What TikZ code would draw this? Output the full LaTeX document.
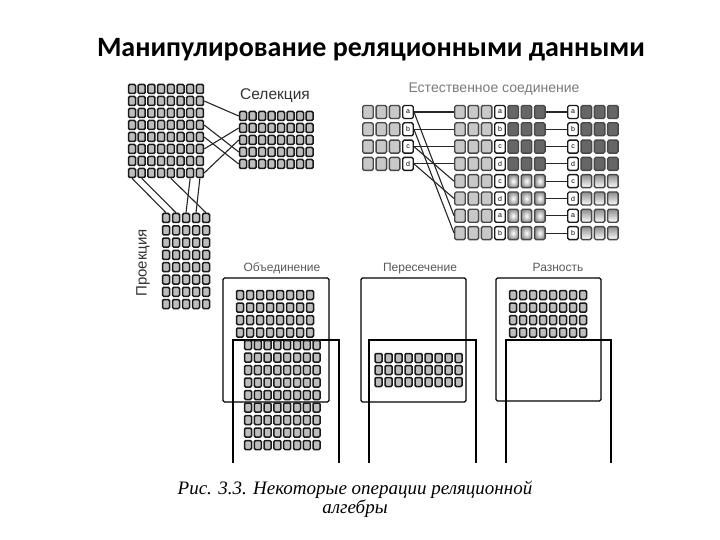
\documentclass[tikz,border=0pt]{standalone}
\usepackage{fontspec}
\setmainfont{Liberation Serif}
\newfontfamily\titlefont{Carlito}
\newfontfamily\labfont{Liberation Sans}
\definecolor{cellborder}{HTML}{1A1A1A}
\definecolor{cellfill}{HTML}{BDBDBD}
\definecolor{joinfill}{HTML}{C8C8C8}
\definecolor{darkfill}{HTML}{666666}
\definecolor{labgray}{HTML}{5A5A5A}
\begin{document}
\begin{tikzpicture}[x=1pt,y=-1pt,
  cell/.style={draw=cellborder,fill=cellfill,line width=1.5pt,rounded corners=1.2pt,
    minimum width=7pt,minimum height=9pt,inner sep=0pt},
  jcell/.style={draw=cellborder!80,fill=joinfill,line width=1.4pt,rounded corners=1.5pt,
    minimum width=10.5pt,minimum height=13pt,inner sep=0pt},
  keycell/.style={jcell,draw=cellborder,fill=white,font=\labfont\fontsize{7}{7}\selectfont},
  darkcell/.style={jcell,fill=darkfill},
  glowcell/.style={jcell,inner color=white,outer color=gray!85},
  fadecell/.style={jcell,top color=gray!90,bottom color=white},
  conn/.style={draw=black!85,line width=1.1pt},
  frame/.style={draw=black,line width=1.4pt},
  lab/.style={font=\labfont\fontsize{12}{12}\selectfont,text=labgray,inner sep=0pt,anchor=base}]
\useasboundingbox (0,0) rectangle (720,540);
\fill[white] (0,0) rectangle (720,540);

% title
\node[font=\titlefont\bfseries\fontsize{28}{28}\selectfont,inner sep=0pt] (title) at (371,50)
  {Манипулирование реляционными данными};

% ---------- source table ----------
\foreach \r in {1,...,8}{\foreach \c in {1,...,8}{
  \node[cell] (s-\r-\c) at ({132+9.7*(\c-1)},{89+12*(\r-1)}) {};}}
% selection
\foreach \r in {1,...,5}{\foreach \c in {1,...,8}{
  \node[cell] (sel-\r-\c) at ({243+9.5*(\c-1)},{116+12*(\r-1)}) {};}}
\node[font=\labfont\fontsize{15.5}{15.5}\selectfont,text=black!80,inner sep=0pt] (sellab) at (275,96) {Селекция};
% projection
\foreach \r in {1,...,8}{\foreach \c in {1,...,5}{
  \node[cell] (p-\r-\c) at ({166+10*(\c-1)},{218+12.3*(\r-1)}) {};}}
\node[font=\labfont\fontsize{15}{15}\selectfont,text=black!80,inner sep=0pt,rotate=90] (projlab) at (143,263) {Проекция};

\draw[conn] (s-2-8.east) -- (sel-1-1.west);
\draw[conn] (s-4-8.east) -- (sel-4-1.west);
\draw[conn] (s-5-8.east) -- (sel-5-1.west);
\draw[conn] (s-6-8.east) -- (sel-2-1.west);
\draw[conn] (s-8-8.east) -- (sel-3-1.west);

\draw[conn] (s-8-1.south) -- (p-1-1.north);
\draw[conn] (s-8-2.south) -- (p-1-2.north);
\draw[conn] (s-8-5.south) -- (p-1-5.north);
\draw[conn] (s-8-7.south) -- (p-1-3.north);
\draw[conn] (s-8-8.south) -- (p-1-4.north);

% ---------- natural join ----------
\node[lab,font=\labfont\fontsize{14}{14}\selectfont,text=labgray!80] (joinlab) at (494,93) {Естественное соединение};
\foreach \r/\k in {1/a,2/b,3/c,4/d}{
  \foreach \c in {1,2,3}{\node[jcell] (l-\r-\c) at ({368+13.3*(\c-1)},{112+17.3*(\r-1)}) {};}
  \node[keycell] (l-\r-4) at (408,{112+17.3*(\r-1)}) {\k};}
\foreach \r/\k in {1/a,2/b,3/c,4/d,5/c,6/d,7/a,8/b}{
  \foreach \c in {1,2,3}{\node[jcell] (m-\r-\c) at ({460+13.3*(\c-1)},{112+17.3*(\r-1)}) {};}
  \node[keycell] (m-\r-4) at (500,{112+17.3*(\r-1)}) {\k};
  \node[keycell] (r-\r-1) at (573,{112+17.3*(\r-1)}) {\k};}
\foreach \r in {1,...,4}{
  \foreach \c in {5,6,7}{\node[darkcell] (m-\r-\c) at ({460+13.3*(\c-1)},{112+17.3*(\r-1)}) {};}
  \foreach \c in {2,3,4}{\node[darkcell] (r-\r-\c) at ({573+13.3*(\c-1)},{112+17.3*(\r-1)}) {};}}
\foreach \r in {5,...,8}{
  \foreach \c in {5,6,7}{\node[glowcell] (m-\r-\c) at ({460+13.3*(\c-1)},{112+17.3*(\r-1)}) {};}
  \foreach \c in {2,3,4}{\node[fadecell] (r-\r-\c) at ({573+13.3*(\c-1)},{112+17.3*(\r-1)}) {};}}
\foreach \r in {1,...,4}{\draw[conn] (l-\r-4.east) -- (m-\r-1.west);}
\draw[conn] (l-1-4.east) -- (m-7-1.west);
\draw[conn] (l-2-4.east) -- (m-8-1.west);
\draw[conn] (l-3-4.east) -- (m-5-1.west);
\draw[conn] (l-4-4.east) -- (m-6-1.west);
\foreach \r in {1,...,8}{\draw[conn] (m-\r-7.east) -- (r-\r-1.west);}

% ---------- union ----------
\node[lab] (unionlab) at (282,271) {Объединение};
\draw[frame,rounded corners=1.5pt] (223,278) rectangle (329,402);
\draw[frame] (233,463) -- (233,340) -- (339,340) -- (339,463);
\foreach \r in {1,...,4}{\foreach \c in {1,...,8}{
  \node[cell] (u-\r-\c) at ({240+10*(\c-1)},{295+12.5*(\r-1)}) {};}}
\foreach \r in {5,...,13}{\foreach \c in {1,...,8}{
  \node[cell] (u-\r-\c) at ({248+9.8*(\c-1)},{295+12.5*(\r-1)}) {};}}

% ---------- intersection ----------
\node[lab] (interlab) at (420,271) {Пересечение};
\draw[frame,rounded corners=1.5pt] (361,278) rectangle (466,402);
\draw[frame] (369,463) -- (369,340) -- (476,340) -- (476,463);
\foreach \r in {1,2,3}{\foreach \c in {1,...,9}{
  \node[cell] (i-\r-\c) at ({378.5+10*(\c-1)},{358+12*(\r-1)}) {};}}

% ---------- difference ----------
\node[lab] (difflab) at (558,271) {Разность};
\draw[frame,rounded corners=1.5pt] (496,278) rectangle (601,401);
\draw[frame] (506,463) -- (506,340) -- (611,340) -- (611,463);
\foreach \r in {1,...,4}{\foreach \c in {1,...,8}{
  \node[cell] (d-\r-\c) at ({513+10*(\c-1)},{295+12.5*(\r-1)}) {};}}

% caption
\node[font=\itshape\fontsize{19}{19}\selectfont,inner sep=0pt] (cap1) at (355,490)
  {Рис. 3.3. Некоторые операции реляционной};
\node[font=\itshape\fontsize{19}{19}\selectfont,inner sep=0pt] (cap2) at (355,509) {алгебры};
\end{tikzpicture}
\end{document}
